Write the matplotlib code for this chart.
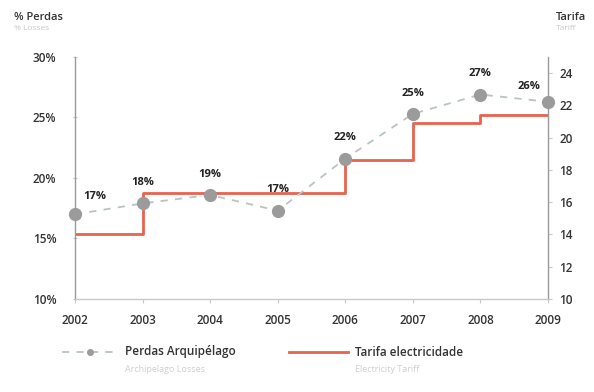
import matplotlib
matplotlib.use("Agg")
import matplotlib.pyplot as plt
from matplotlib.lines import Line2D

years = [2002, 2003, 2004, 2005, 2006, 2007, 2008, 2009]
perdas = [17.0, 17.9, 18.6, 17.3, 21.6, 25.3, 26.9, 26.3]
perdas_labels = ["17%", "18%", "19%", "17%", "22%", "25%", "27%", "26%"]
tarifa = [14.0, 16.6, 16.6, 16.6, 18.6, 20.9, 21.4, 21.4]
left_ticks = [10, 15, 20, 25, 30]
right_ticks = [10, 12, 14, 16, 18, 20, 22, 24]

plt.rcParams['font.family'] = ['Open Sans', 'DejaVu Sans']

fig = plt.figure(figsize=(5.94, 3.92), dpi=100)
ax = fig.add_axes([75/594, 1-299/392, (548-75)/594, (299-57)/392])
ax2 = ax.twinx()

txt = '#333333'
spine_c = '#9a9a9a'
red = '#e8624e'
dash_c = '#b8c4c2'
mk_c = '#9b9b9b'

ax2.plot(years, tarifa, drawstyle='steps-post', color=red, lw=2.0, zorder=2)
ax.plot(years, perdas, linestyle=(0, (4, 4)), color=dash_c, lw=1.3,
        marker='o', ms=8.5, mfc=mk_c, mec=mk_c, clip_on=False, zorder=3)

ax.set_zorder(ax2.get_zorder() + 1)
ax.patch.set_visible(False)

offsets = {0: (14, 9), 7: (-14, 7)}
for i, (x, y, lab) in enumerate(zip(years, perdas, perdas_labels)):
    dx, dy = offsets.get(i, (0, 11))
    ax.annotate(lab, (x, y), xytext=(dx, dy), textcoords='offset points',
                ha='center', va='bottom', fontsize=8, fontweight='bold', color='#222222')

ax.set_xlim(2002, 2009)
ax.set_ylim(10, 30)
ax2.set_ylim(10, 25)
ax.set_xticks(years)
ax.set_xticklabels([str(y) for y in years])
ax.set_yticks(left_ticks)
ax.set_yticklabels([f"{t}%" for t in left_ticks])
ax2.set_yticks(right_ticks)

for a in (ax, ax2):
    a.spines['top'].set_visible(False)
    for s in ('left', 'right', 'bottom'):
        a.spines[s].set_color(spine_c)
        a.spines[s].set_linewidth(1.0)
ax.spines['right'].set_visible(False)
ax2.spines['left'].set_visible(False)
ax2.spines['bottom'].set_visible(False)
ax.spines['bottom'].set_color('#c8c8c8')

ax.tick_params(axis='y', length=3, direction='inout', color='#c8c8c8', labelsize=8.5, labelcolor=txt, pad=12)
ax.tick_params(axis='x', length=3, color='#c8c8c8', labelsize=8.5, labelcolor=txt, pad=8)
ax2.tick_params(axis='y', length=3, color='#c8c8c8', labelsize=8.5, labelcolor=txt, pad=5)
for lab in ax.get_xticklabels() + ax.get_yticklabels() + ax2.get_yticklabels():
    lab.set_fontweight('semibold')

# Axis titles
fig.text(14/594, 1-17/392, "% Perdas", fontsize=8, color=txt, va='center', ha='left', fontweight='semibold')
fig.text(14/594, 1-29/392, "% Losses", fontsize=6, color='#c8c8c8', va='center', ha='left')
fig.text(556/594, 1-17/392, "Tarifa", fontsize=8, color=txt, va='center', ha='left', fontweight='semibold')
fig.text(556/594, 1-29/392, "Tariff", fontsize=6, color='#c8c8c8', va='center', ha='left')

# Legend (custom)
lx = fig.add_axes([0, 0, 1, 1], facecolor='none')
lx.set_xlim(0, 594)
lx.set_ylim(392, 0)
lx.axis('off')
lx.add_line(Line2D([62, 118], [352, 352], linestyle=(0, (4, 4)), color=dash_c, lw=1.3))
lx.add_line(Line2D([90], [352], marker='o', ms=4, mfc=mk_c, mec=mk_c, lw=0))
lx.text(125, 352, "Perdas Arquipélago", fontsize=8.5, color=txt, va='center', ha='left', fontweight='semibold')
lx.text(125, 370, "Archipelago Losses", fontsize=6.5, color='#cfcfcf', va='center', ha='left')
lx.add_line(Line2D([289, 348], [352, 352], color=red, lw=2.0))
lx.text(355, 352, "Tarifa electricidade", fontsize=8.5, color=txt, va='center', ha='left', fontweight='semibold')
lx.text(355, 370, "Electricity Tariff", fontsize=6.5, color='#cfcfcf', va='center', ha='left')

fig.savefig("out.png", dpi=100)
